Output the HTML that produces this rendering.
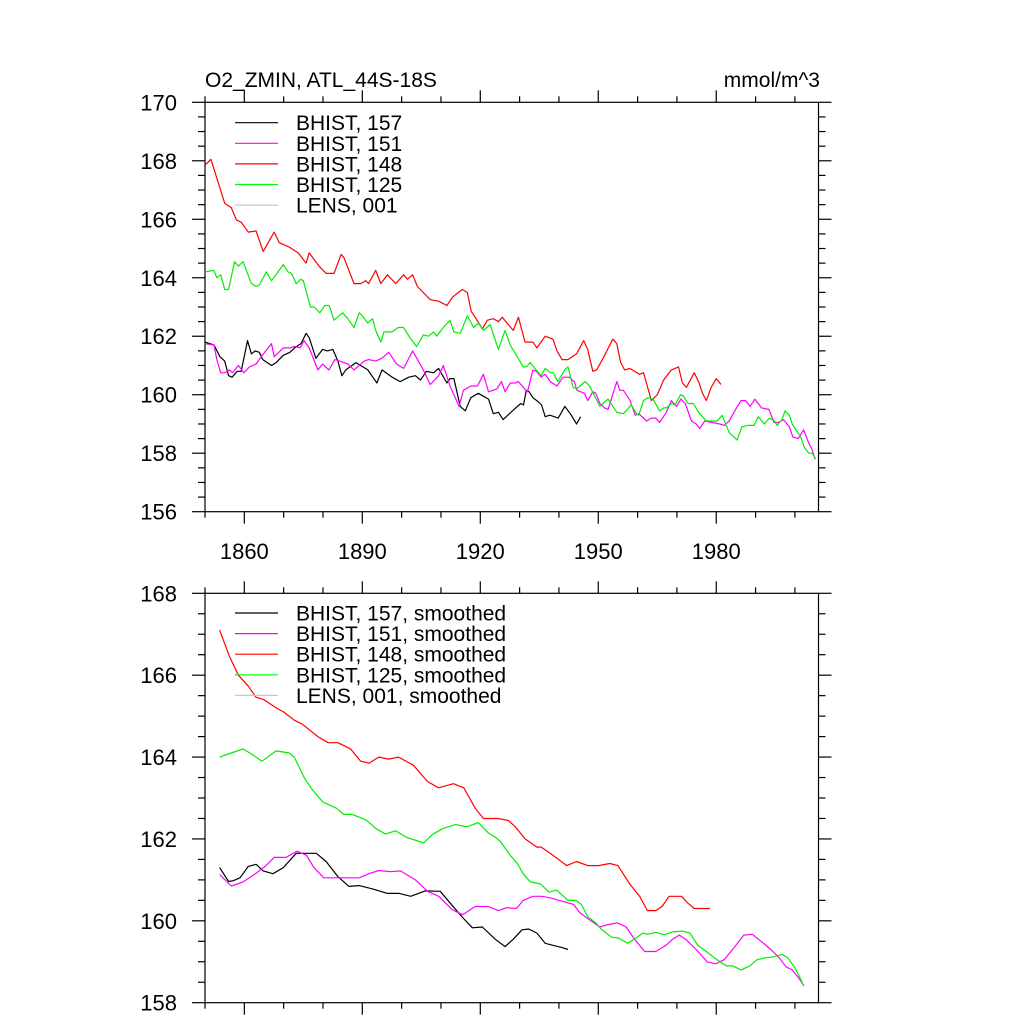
<!DOCTYPE html>
<html><head><meta charset="utf-8"><style>
html,body{margin:0;padding:0;background:#fff;}
svg{display:block;font-family:"Liberation Sans",Arial,sans-serif;}
</style></head><body>
<svg id="chart" width="1024" height="1024" viewBox="0 0 1024 1024" xmlns="http://www.w3.org/2000/svg">
<text x="205" y="87" font-size="21">O2_ZMIN, ATL_44S-18S</text>
<text x="820" y="87" font-size="21" text-anchor="end">mmol/m^3</text>
<g id="top"></g>
<g id="bot"></g>
</svg>
<script>
// ---- top panel (annual) data ----
const redYears=[1850,1851.5,1855,1856.7,1858,1859.2,1861,1863,1864.8,1867.6,1868.9,1871.4,1873.7,1875.7,1876.5,1879,1880.8,1882.8,1884.6,1885.3,1887.9,1889.6,1890.9,1891.6,1893.4,1894.7,1896.4,1898.5,1900.5,1901.5,1902.8,1904,1907.3,1909.4,1911.5,1913,1915.4,1916.7,1917.7,1918.7,1920.5,1921.8,1923.3,1924.6,1925.6,1926.8,1928.4,1929.7,1931.4,1933.4,1934.4,1936.5,1938.5,1939.5,1940.8,1942.3,1944.5,1946.3,1947.3,1948.6,1949.6,1951.6,1953.7,1954.7,1955.7,1956.7,1958,1960.5,1961.5,1963.5,1965,1966.6,1968.6,1970.4,1971.4,1972.4,1974.4,1975.5,1976.5,1977.5,1978.7,1980,1981.2];
const redVals=[167.85,168.05,166.55,166.4,165.97,165.9,165.56,165.6,164.9,165.56,165.2,165.05,164.85,164.5,164.85,164.4,164.15,164.15,164.8,164.7,163.8,163.8,163.9,163.8,164.25,163.8,164.1,163.8,164.1,163.95,164.1,163.7,163.25,163.2,163.05,163.35,163.6,163.5,162.85,162.65,162.25,162.55,162.6,162.5,162.65,162.45,162.2,162.65,161.8,161.8,161.6,162.0,161.9,161.5,161.2,161.2,161.4,161.85,161.55,160.8,160.85,161.35,161.9,161.75,161.1,160.85,160.9,160.7,160.75,159.8,160.0,160.5,160.85,160.95,160.4,160.25,160.75,160.45,160.05,159.8,160.25,160.55,160.35];
const greenYears=[1850,1852.3,1853,1854,1855,1856,1857.5,1858.5,1859.7,1861.8,1863,1863.8,1865.6,1866.9,1869.9,1871.1,1872,1873.2,1874.4,1875,1876.8,1877.8,1879.2,1880.5,1881.6,1882.8,1885,1886.3,1887.9,1889.2,1890,1891.4,1892.6,1893.4,1894.7,1895.5,1897.6,1899.1,1900.5,1902.1,1903.8,1905.5,1906.8,1908.1,1908.9,1910.6,1912.3,1913.3,1914.9,1916.7,1918.3,1919.5,1920.8,1922.5,1924.6,1926.3,1927.6,1929.4,1930.9,1931.7,1932.7,1934.5,1935.5,1936.5,1937.8,1938.6,1939.7,1941.5,1942.3,1943.6,1944.6,1946.6,1947.8,1949.1,1950.4,1951.6,1952.5,1954.7,1956.4,1958.4,1959.7,1960.3,1961.5,1962.6,1963.9,1965.6,1966.6,1967.3,1968.6,1969.5,1970.9,1971.7,1972.8,1974.2,1975.5,1977.5,1979,1980.3,1981.5,1983.3,1985.3,1986.5,1988,1989.6,1990.7,1992.2,1993.5,1994.8,1995.5,1996.7,1997.5,1998.6,1999.3,2001.5,2002.4,2003.5,2004.4,2005.3];
const greenVals=[164.2,164.25,164.0,164.1,163.6,163.6,164.55,164.4,164.55,163.8,163.7,163.75,164.2,163.9,164.45,164.2,164.15,163.8,163.95,163.9,163.0,163.0,162.8,163.05,163.05,162.55,162.8,162.6,162.3,162.8,162.7,162.45,162.6,162.2,161.8,162.15,162.15,162.3,162.3,161.95,161.65,162.05,162.0,162.15,162.0,162.3,162.55,162.15,162.1,162.7,162.3,162.45,162.2,162.4,161.55,162.2,161.7,161.3,160.95,160.95,161.1,160.8,160.65,160.9,160.75,160.75,160.45,160.85,160.95,160.25,160.2,160.45,160.3,159.95,159.6,159.75,159.85,159.4,159.35,159.65,159.35,159.3,159.8,159.9,159.85,159.45,159.55,159.55,159.7,159.65,160.0,159.95,159.7,159.7,159.4,159.1,159.1,159.1,159.3,158.7,158.45,158.9,158.95,158.95,159.25,159.0,159.2,159.1,158.95,159.15,159.45,159.3,159.0,158.55,158.2,158.0,158.0,157.8];
const magYears=[1850,1852.3,1853,1854,1855,1856.2,1857,1858.5,1859.9,1861.3,1863,1864.3,1866.9,1867.6,1869.9,1871.6,1872.8,1874.2,1875.2,1876.5,1878.7,1879.9,1881.5,1883,1884.3,1886.3,1887.9,1890.5,1891.6,1893.4,1895,1896.7,1898.7,1900.5,1902.8,1905.3,1907.3,1909.4,1910.6,1912.3,1914.6,1915.7,1917.6,1919.3,1920.8,1922.1,1924.2,1925.4,1926.3,1927.6,1928.9,1929.7,1931.3,1932,1933.4,1934.3,1935.5,1936.5,1937.8,1939.5,1941,1942.6,1943.9,1944.6,1946.5,1947.3,1948.6,1949.4,1950.4,1951.6,1952.5,1954.7,1955.5,1956.4,1958.1,1959.4,1960.3,1962.3,1963.5,1964.6,1965.6,1967.3,1968.6,1969.9,1971,1972.1,1973.7,1974.9,1975.8,1977.1,1979,1980.9,1982,1983.3,1984.5,1986.3,1987.5,1988.6,1989.8,1991.5,1993.4,1994.7,1995.8,1997.1,1998.6,1999.5,2000.9,2002.2,2003.5,2004.3,2005.1];
const magVals=[161.75,161.7,161.2,160.75,160.75,160.85,160.75,161.0,160.75,160.95,161.05,161.3,161.75,161.3,161.6,161.6,161.65,161.6,161.85,161.6,160.85,161.05,160.85,161.2,161.15,161.05,160.85,161.15,161.2,161.15,161.25,161.45,161.05,160.9,161.5,160.9,160.35,160.65,161.0,160.3,159.6,160.15,160.3,160.3,160.7,160.1,160.2,160.45,160.1,160.4,160.4,160.45,160.2,160.1,160.85,160.8,160.6,160.7,160.45,160.3,160.6,160.6,160.45,160.15,160.05,159.8,160.1,160.05,159.7,159.55,159.5,160.45,160.15,160.15,159.8,159.3,159.35,159.1,159.2,159.2,159.05,159.4,159.8,159.6,159.85,159.7,159.1,159.0,158.85,159.1,159.05,159.0,158.95,159.1,159.4,159.8,159.8,159.6,159.85,159.55,159.5,159.05,159.05,159.15,158.9,158.55,158.5,158.8,158.35,158.15,157.8];
const blkYears=[1850,1852.3,1853.8,1855,1856,1856.9,1858.2,1859.2,1860.8,1861.8,1862.8,1863.8,1864.7,1866.9,1868.1,1869.9,1871.6,1872.8,1874.4,1875.7,1876.5,1878.2,1879.9,1881.1,1882.5,1883.8,1884.8,1885.8,1888.4,1889.6,1891.4,1893.7,1895,1897.6,1899.6,1901.8,1903.5,1904.8,1906.3,1908.1,1909.4,1911.5,1912.3,1913.3,1914.9,1916.2,1917.6,1919.5,1920.8,1922.1,1923.3,1924.6,1925.8,1927,1929,1930.3,1931,1931.7,1932.4,1933.4,1934.8,1935.6,1936.5,1937.7,1939.8,1941.5,1942.9,1944.5,1945.5];
const blkVals=[161.8,161.7,161.3,161.15,160.65,160.6,160.8,160.8,161.85,161.4,161.5,161.45,161.2,161.0,161.1,161.35,161.45,161.6,161.75,162.1,161.95,161.25,161.55,161.5,161.55,161.15,160.65,160.85,161.1,161.0,160.85,160.4,160.85,160.6,160.45,160.6,160.65,160.5,160.8,160.75,160.9,160.4,160.55,160.55,159.6,159.45,159.9,160.05,159.95,159.85,159.35,159.4,159.15,159.3,159.55,159.7,159.65,160.15,160.1,159.9,159.75,159.65,159.25,159.3,159.2,159.6,159.35,159.0,159.25];
// ---- bottom panel (smoothed) data ----
const sRedYears=[1853.7,1856.2,1858.5,1861,1863,1865,1868.1,1870,1872.7,1874.8,1878.7,1881.3,1883.8,1887,1889.6,1891.7,1894.2,1896.7,1899.2,1903,1906.6,1909.4,1913.2,1915.8,1918.7,1920.8,1924.5,1927.1,1928.9,1931.4,1934.4,1935.5,1938.5,1942,1944.5,1947.3,1950.1,1952.9,1955,1958,1960.5,1962.5,1964.6,1966.2,1968,1971.2,1972.6,1974.4,1975.7,1977.3,1978.4];
const sRedVals=[167.1,166.46,166.0,165.73,165.46,165.4,165.2,165.1,164.9,164.8,164.5,164.35,164.35,164.2,163.9,163.85,164.0,163.95,164.0,163.8,163.4,163.25,163.35,163.25,162.75,162.5,162.5,162.45,162.3,162.0,161.8,161.8,161.6,161.35,161.45,161.35,161.35,161.4,161.35,160.9,160.6,160.25,160.25,160.35,160.6,160.6,160.45,160.3,160.3,160.3,160.3];
const sGreenYears=[1853.7,1856.7,1859.7,1862.2,1864.5,1868.1,1871.4,1872.7,1875.2,1877.3,1880,1883.4,1885.3,1887.4,1890.9,1893.5,1895.9,1898.5,1901,1905.6,1907.7,1910.4,1913.7,1916.7,1919.5,1922,1923.7,1925,1927.6,1929.4,1930.9,1932.7,1935.3,1937.5,1939.4,1942.3,1944.3,1945.7,1947.3,1949.4,1950.7,1953.4,1955.1,1957.5,1959.6,1961.3,1962.6,1964.6,1966.8,1968.9,1971.4,1973.3,1975.3,1977.5,1979.5,1982.5,1984.2,1986.3,1988.5,1990.4,1992.6,1994.7,1996.7,1998.2,1999.8,2001.1,2002.3];
const sGreenVals=[164.0,164.1,164.2,164.05,163.9,164.15,164.1,164.0,163.5,163.2,162.9,162.75,162.6,162.6,162.47,162.25,162.12,162.2,162.05,161.9,162.1,162.25,162.35,162.3,162.4,162.15,162.05,161.95,161.6,161.4,161.15,160.95,160.9,160.7,160.75,160.5,160.5,160.4,160.1,159.95,159.8,159.6,159.58,159.45,159.58,159.7,159.67,159.72,159.66,159.73,159.75,159.7,159.4,159.25,159.1,158.9,158.9,158.8,158.9,159.05,159.1,159.12,159.18,159.1,158.88,158.65,158.4];
const sMagYears=[1853.7,1856.7,1859.7,1862.5,1865.5,1867.6,1870.6,1873.4,1875.8,1877.7,1880.2,1882.4,1885.8,1889.2,1891.7,1894.2,1897.2,1899.7,1903.5,1906.6,1909.4,1912.9,1915.5,1918.7,1922,1924.6,1926.7,1929.2,1930.9,1933.4,1935.7,1938.3,1940,1942,1943.7,1945.3,1947.4,1950.4,1952.1,1954.9,1957.1,1959.2,1961.8,1964.6,1967.2,1968.9,1970.6,1972.2,1974.9,1977.7,1979.9,1982,1984.6,1987,1989.2,1991.4,1993.9,1996,1997.7,1999.3,2001,2002.3];
const sMagVals=[161.13,160.85,160.95,161.13,161.35,161.55,161.55,161.7,161.6,161.3,161.05,161.05,161.05,161.05,161.15,161.23,161.2,161.22,161.0,160.72,160.6,160.27,160.15,160.35,160.35,160.25,160.32,160.3,160.5,160.6,160.6,160.55,160.5,160.45,160.4,160.2,160.05,159.85,159.9,159.95,159.85,159.55,159.25,159.25,159.4,159.55,159.65,159.55,159.3,159.0,158.95,159.05,159.35,159.65,159.67,159.5,159.3,159.1,158.88,158.8,158.6,158.42];
const sBlkYears=[1853.7,1856,1857.2,1858.9,1861,1863,1864.8,1867.3,1869.9,1873.2,1875.7,1878.3,1880.8,1883.8,1886.6,1889.2,1892.6,1896.4,1899.4,1902.3,1906,1909.8,1912.9,1915.5,1918,1920.5,1923.8,1926.3,1928.4,1930.6,1932.3,1934.4,1936.5,1938.6,1940.7,1942.3];
const sBlkVals=[161.3,160.96,160.98,161.05,161.33,161.38,161.22,161.15,161.3,161.65,161.65,161.65,161.45,161.08,160.84,160.86,160.78,160.67,160.67,160.6,160.73,160.72,160.37,160.08,159.83,159.85,159.55,159.37,159.55,159.78,159.8,159.7,159.45,159.4,159.35,159.3];
const xMajorTicks=[1860,1890,1920,1950,1980];
const xMinorTicks=[1850,1870,1880,1900,1910,1930,1940,1960,1970,1990,2000];
const topYTicks=[156,158,160,162,164,166,168,170];
const botYTicks=[158,160,162,164,166,168];
const topLegend=["BHIST, 157","BHIST, 151","BHIST, 148","BHIST, 125","LENS, 001"];
const botLegend=["BHIST, 157, smoothed","BHIST, 151, smoothed","BHIST, 148, smoothed","BHIST, 125, smoothed","LENS, 001, smoothed"];
const legendColors=["#000000","#ff00ff","#ff0000","#00ff00","#c8c8c8"];

const NS="http://www.w3.org/2000/svg";
const X0=205,X1=818.5,YR0=1850,YR1=2006;
function xs(y){return X0+(y-YR0)/(YR1-YR0)*(X1-X0);}
function mk(parent,tag,attrs){const e=document.createElementNS(NS,tag);for(const k in attrs)e.setAttribute(k,attrs[k]);parent.appendChild(e);return e;}

function panel(g,top,bottom,vmin,vmax,yTicks,showXLabels,legend,ly0,series,prefix){
  const ys=v=>bottom-(v-vmin)/(vmax-vmin)*(bottom-top);
  const ax=mk(g,'g',{stroke:'#000','stroke-width':1.2,fill:'none'});
  
  
  mk(ax,'rect',{x:X0,y:top,width:X1-X0,height:bottom-top});
  for(let v=vmin;v<=vmax+1e-9;v+=0.5){
    const major=Math.abs(v/2-Math.round(v/2))<1e-6;
    const L=major?13:7, y=ys(v);
    mk(ax,'line',{x1:X0-L,y1:y,x2:X0,y2:y});
    mk(ax,'line',{x1:X1,y1:y,x2:X1+L,y2:y});
  }
  xMajorTicks.forEach(t=>{const x=xs(t);mk(ax,'line',{x1:x,y1:top-12,x2:x,y2:top});mk(ax,'line',{x1:x,y1:bottom,x2:x,y2:bottom+12});});
  xMinorTicks.forEach(t=>{const x=xs(t);mk(ax,'line',{x1:x,y1:top-6,x2:x,y2:top});mk(ax,'line',{x1:x,y1:bottom,x2:x,y2:bottom+6});});
  yTicks.forEach(v=>{
    const t=mk(g,'text',{x:177,y:ys(v)+8,'font-size':22,'text-anchor':'end'});
    t.textContent=v;
    
    
  });
  if(showXLabels){xMajorTicks.forEach(v=>{
    const t=mk(g,'text',{x:xs(v),y:559,'font-size':22,'text-anchor':'middle'});
    t.textContent=v;
    
    
  });}
  series.forEach(s=>{
    const d=s.years.map((yr,i)=>(i?'L':'M')+xs(yr).toFixed(1)+','+ys(s.vals[i]).toFixed(1)).join('');
    const p=mk(g,'path',{d:d,fill:'none',stroke:s.color,'stroke-width':1.2,'stroke-linejoin':'round'});
    
    
  });
  legend.forEach((lab,i)=>{
    const y=ly0+i*20.6;
    const le=mk(g,'g',{});
    
    
    mk(le,'line',{x1:235,y1:y,x2:278,y2:y,stroke:legendColors[i],'stroke-width':1.2});
    const t=mk(le,'text',{x:296,y:y+7.5,'font-size':21});
    t.textContent=lab;
  });
}
panel(document.getElementById('top'),102.3,511.7,156,170,topYTicks,true,topLegend,122.7,[
  {name:'bhist-157',years:blkYears,vals:blkVals,color:'#000'},
  {name:'bhist-151',years:magYears,vals:magVals,color:'#ff00ff'},
  {name:'bhist-148',years:redYears,vals:redVals,color:'#ff0000'},
  {name:'bhist-125',years:greenYears,vals:greenVals,color:'#00ee00'}],'top');
panel(document.getElementById('bot'),593.3,1002.7,158,168,botYTicks,false,botLegend,613,[
  {name:'bhist-157-smoothed',years:sBlkYears,vals:sBlkVals,color:'#000'},
  {name:'bhist-151-smoothed',years:sMagYears,vals:sMagVals,color:'#ff00ff'},
  {name:'bhist-148-smoothed',years:sRedYears,vals:sRedVals,color:'#ff0000'},
  {name:'bhist-125-smoothed',years:sGreenYears,vals:sGreenVals,color:'#00ee00'}],'bottom');
</script>
</body></html>
